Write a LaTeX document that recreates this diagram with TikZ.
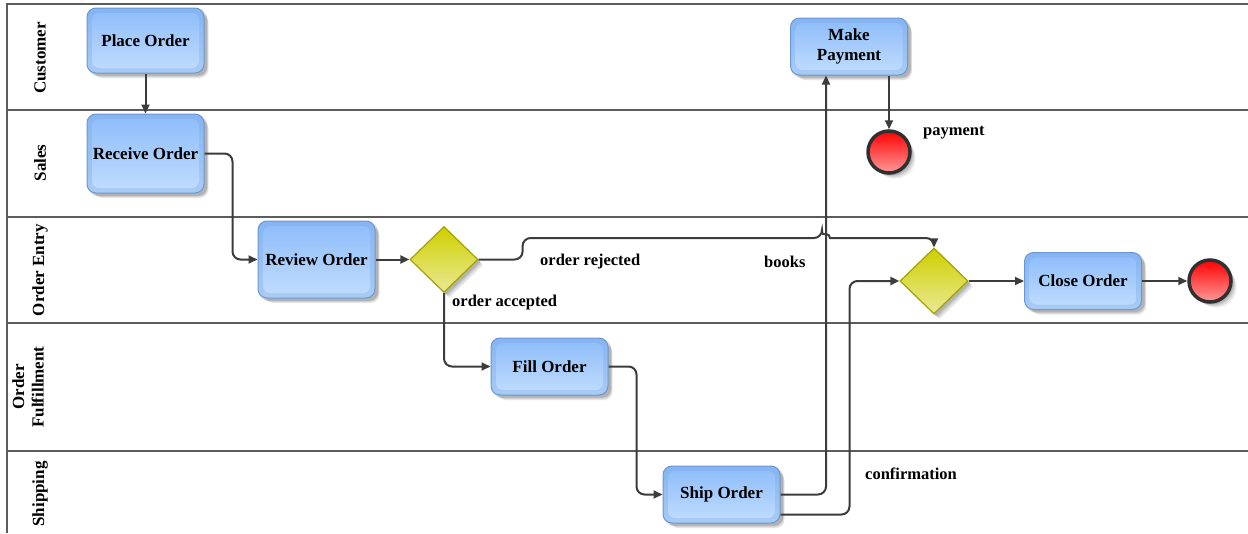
\documentclass[tikz,border=0pt]{standalone}
\usepackage{fontspec}
\setmainfont{Liberation Serif}
\usetikzlibrary{shapes.geometric, arrows.meta, shadows, calc}

\definecolor{laneline}{HTML}{5C5C5C}
\definecolor{flowcol}{HTML}{3C3C3C}
\definecolor{taskborder}{HTML}{6A98D4}
\definecolor{taskouttop}{HTML}{86B4F2}
\definecolor{taskoutbot}{HTML}{A9CBF3}
\definecolor{taskintop}{HTML}{8CBCFA}
\definecolor{taskinbot}{HTML}{C2DDFD}
\definecolor{gateborder}{HTML}{A3A300}
\definecolor{gatetop}{HTML}{CFCF00}
\definecolor{gatebot}{HTML}{E9E996}
\definecolor{endborder}{HTML}{303030}
\definecolor{endtop}{HTML}{FF0000}
\definecolor{endbot}{HTML}{FF9A9A}

\newcommand\tasktext{\bfseries\fontsize{17}{19.5}\selectfont}
\newcommand\flowtext{\bfseries\fontsize{16.5}{18}\selectfont}

\begin{document}
\begin{tikzpicture}[x=1pt, y=-1pt,
  lane/.style={draw=laneline, line width=1.6pt},
  lanelabel/.style={rotate=90, align=center, font=\tasktext},
  % layered offsets give a soft, blurred-looking shadow
  softshadow/.style={
    drop shadow={shadow xshift=2pt, shadow yshift=-2pt, opacity=0.10, fill=black, shadow scale=1.02},
    drop shadow={shadow xshift=3.5pt, shadow yshift=-3.5pt, opacity=0.10, fill=black},
    drop shadow={shadow xshift=5pt, shadow yshift=-5pt, opacity=0.08, fill=black, shadow scale=0.99},
    drop shadow={shadow xshift=6.5pt, shadow yshift=-6.5pt, opacity=0.05, fill=black, shadow scale=0.97}},
  task/.style={draw=taskborder, line width=1pt, rounded corners=9pt,
    top color=taskouttop, bottom color=taskoutbot,
    minimum width=117pt, minimum height=57pt, inner sep=2pt,
    align=center, font=\tasktext, softshadow,
    path picture={\path[rounded corners=7pt, top color=taskintop, bottom color=taskinbot]
      ([shift={(5pt,5pt)}]path picture bounding box.south west) rectangle
      ([shift={(-5pt,-5pt)}]path picture bounding box.north east);}},
  gateway/.style={diamond, draw=gateborder, line width=1.2pt, top color=gatetop,
    bottom color=gatebot, minimum width=68pt, minimum height=66pt, inner sep=0pt, softshadow},
  endevent/.style={circle, draw=endborder, line width=3.5pt, top color=endtop,
    bottom color=endbot, minimum size=42pt, inner sep=0pt, softshadow},
  flow/.style={draw=flowcol, line width=2pt, rounded corners=8pt,
    -{Triangle[length=9pt, width=8pt]}},
  flowlabel/.style={anchor=west, font=\flowtext, inner sep=0pt}]

\useasboundingbox (0,0) rectangle (1248,533);
\fill[white] (0,0) rectangle (1248,533);

% swimlanes
\draw[lane] (1248,4) -- (7,4) -- (7,533);
\foreach \ly in {110,217,323,451} \draw[lane] (7,\ly) -- (1248,\ly);

\node[lanelabel] (lcust) at (40,58) {Customer};
\node[lanelabel] (lsales) at (40,163) {Sales};
\node[lanelabel] (lentry) at (40,270) {Order Entry};
\node[lanelabel] (lfill) at (28,387) {Order\\Fulfillment};
\node[lanelabel] (lship) at (40,494) {Shipping};

% activities
\node[task, minimum height=65pt] (place) at (145.5,40.5) {Place Order};
\node[task, minimum height=79pt] (receive) at (145.5,153.5) {Receive Order};
\node[task, minimum height=77pt] (review) at (316.5,259.5) {Review Order};
\node[task] (fill) at (549.5,366.5) {Fill Order};
\node[task] (ship) at (721.5,494.5) {Ship Order};
\node[task] (pay) at (849,46.5) {Make\\Payment};
\node[task] (close) at (1083,281) {Close Order};

% gateways and end events
\node[gateway] (g1) at (444,259.5) {};
\node[gateway] (g2) at (934,281) {};
\node[endevent] (endpay) at (889,152) {};
\node[endevent] (endall) at (1210,281) {};

% sequence flows
\draw[flow] (place) -- (receive);
\draw[flow] (receive.east) -- ++(28,0) |- (review.west);
\draw[flow] (review.east) -- (g1.west);
\draw[flow] (g1.south) |- (fill.west);
\draw[flow] (fill.east) -- ++(28,0) |- (ship.west);
\draw[flow] (ship.east) -| ([xshift=-23pt]pay.south);
\draw[flow] (endpay.north |- pay.south) -- (endpay.north);
\draw[flow] ([yshift=-20pt]ship.east) -- ++(69,0) |- (g2.west);
\draw[flow] (g2.east) -- (close.west);
\draw[flow] (close.east) -- (endall.west);

% rejected branch, hopping over the payment line
\coordinate (hopL) at (822,238);
\draw[flow] (g1.east) -- ++(44,0) |- (hopL)
  [sharp corners] arc[start angle=180, end angle=0, radius=4pt]
  [rounded corners=8pt] -- (g2.north |- hopL) -- (g2.north);

% flow labels
\node[flowlabel] (lblpay) at (923,133) {payment};
\node[flowlabel] (lblrej) at (540,262) {order rejected};
\node[flowlabel] (lblbooks) at (764,262) {books};
\node[flowlabel] (lblacc) at (452,303) {order accepted};
\node[flowlabel] (lblconf) at (865,474) {confirmation};
\end{tikzpicture}
\end{document}
